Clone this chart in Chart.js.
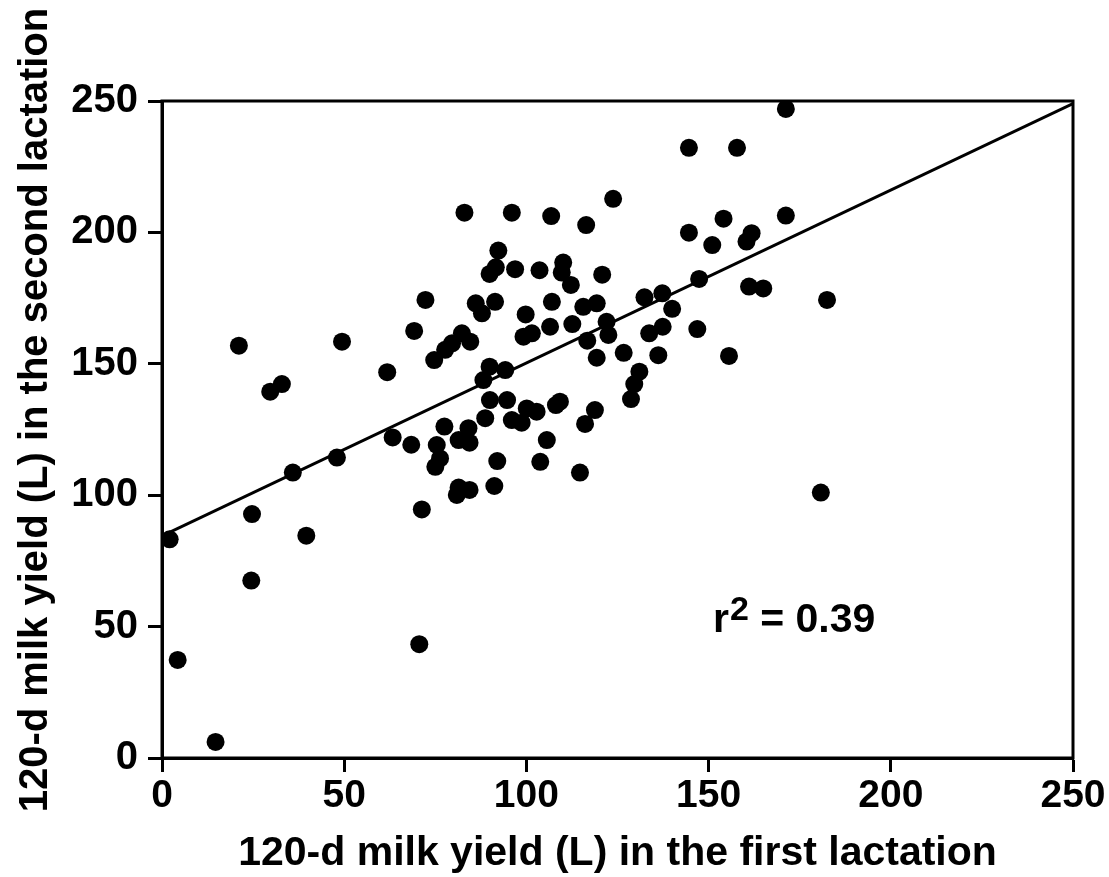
<!DOCTYPE html>
<html>
<head>
<meta charset="utf-8">
<script src="https://cdn.jsdelivr.net/npm/chart.js@4.4.1/dist/chart.umd.min.js"></script>
<style>
  html, body { margin: 0; padding: 0; background: #fff; }
  #wrap { width: 1109px; height: 877px; }
</style>
</head>
<body>
<div id="wrap"><canvas id="c" width="1109" height="877"></canvas></div>
<script>
// ---- data ----
const firstLactation = [
  2.1, 4.3, 14.7, 21.1, 24.5, 24.7, 29.7, 32.9, 35.9, 39.6,
  48.0, 49.4, 61.8, 63.3, 68.4, 69.2, 70.6, 71.3, 72.3, 74.7,
  75.4, 76.3, 75.0, 77.5, 77.7, 79.6, 82.3, 84.6, 83.0, 84.1,
  81.4, 84.4, 81.4, 84.4, 80.9, 86.1, 87.8, 91.4, 89.9, 91.6,
  92.3, 88.2, 89.9, 94.2, 90.0, 94.7, 88.7, 96.0, 98.7, 100.1,
  102.8, 92.0, 91.2, 96.0, 96.9, 99.8, 99.2, 101.5, 103.6, 103.8,
  105.6, 106.5, 107.0, 106.8, 108.1, 109.2, 110.1, 109.7, 112.2, 112.6,
  114.7, 115.6, 116.4, 116.7, 116.1, 118.8, 119.3, 119.3, 120.8, 122.0,
  122.5, 123.8, 126.7, 128.7, 129.6, 131.0, 132.4, 133.7, 136.2, 137.3,
  137.4, 140.0, 144.6, 144.6, 146.9, 147.4, 151.0, 154.1, 155.6, 157.8,
  160.4, 161.8, 161.1, 165.0, 171.2, 171.2, 180.8, 182.5
];
const secondLactation = [
  83.2, 37.3, 6.1, 156.9, 67.5, 92.8, 139.4, 142.3, 108.6, 84.6,
  114.3, 158.4, 146.8, 122.0, 119.2, 162.5, 43.3, 94.6, 174.3, 151.4,
  119.1, 114.0, 110.8, 126.1, 155.3, 157.8, 161.6, 158.4, 207.5, 125.5,
  121.0, 120.0, 102.9, 102.0, 100.1, 173.0, 169.2, 173.6, 184.2, 186.7,
  193.1, 143.8, 148.9, 147.6, 136.2, 136.2, 129.3, 128.6, 127.6, 133.0,
  131.8, 113.0, 103.5, 207.5, 186.0, 168.8, 160.3, 161.6, 185.6, 112.7,
  121.0, 164.1, 173.6, 206.2, 134.3, 135.6, 188.5, 184.7, 180.0, 165.1,
  108.6, 171.7, 202.8, 158.8, 127.1, 132.4, 173.0, 152.3, 183.9, 166.0,
  161.0, 212.8, 154.2, 136.6, 142.3, 147.0, 175.3, 161.6, 153.3, 176.8,
  164.1, 170.9, 232.2, 199.9, 163.2, 182.3, 195.2, 205.2, 153.0, 232.2,
  196.5, 199.7, 179.4, 178.7, 247.0, 206.4, 101.0, 174.3
];
const fitLineX = [0, 250];
const fitLineY = [84.5, 249];
const tickValues = [0, 50, 100, 150, 200, 250];
const xTitle = '120-d milk yield (L) in the first lactation';
const yTitle = '120-d milk yield (L) in the second lactation';
const r2Label = { base: 'r', sup: '2', rest: ' = 0.39', x: 151.2, y: 48.0 };

// ---- chart ----
const FAM = '"Liberation Sans", Arial, Helvetica, sans-serif';
const points = firstLactation.map((v, i) => ({ x: v, y: secondLactation[i] }));
const fit = fitLineX.map((v, i) => ({ x: v, y: fitLineY[i] }));

const deco = {
  id: 'deco',
  afterDraw(chart) {
    const { ctx, chartArea: a, scales: { x, y } } = chart;
    ctx.save();
    ctx.strokeStyle = '#000';
    ctx.lineWidth = 3;
    ctx.strokeRect(a.left, a.top, a.right - a.left, a.bottom - a.top);

    ctx.fillStyle = '#000';
    ctx.textBaseline = 'alphabetic';
    ctx.textAlign = 'left';
    let px = x.getPixelForValue(r2Label.x);
    const py = y.getPixelForValue(r2Label.y);
    ctx.font = 'bold 41px ' + FAM;
    ctx.fillText(r2Label.base, px, py);
    px += ctx.measureText(r2Label.base).width + 1;
    ctx.font = 'bold 34px ' + FAM;
    ctx.fillText(r2Label.sup, px, py - 12);
    px += ctx.measureText(r2Label.sup).width;
    ctx.font = 'bold 41px ' + FAM;
    ctx.fillText(r2Label.rest, px, py);

    // y axis title
    ctx.translate(47, 410);
    ctx.rotate(-Math.PI / 2);
    ctx.textAlign = 'center';
    ctx.font = 'bold 40px ' + FAM;
    ctx.fillText(yTitle, 0, 0);
    ctx.restore();
  }
};

new Chart(document.getElementById('c'), {
  type: 'scatter',
  data: {
    datasets: [
      {
        data: points,
        backgroundColor: '#000',
        borderWidth: 0,
        pointRadius: 9,
        pointHoverRadius: 9
      },
      {
        type: 'line',
        data: fit,
        borderColor: '#000',
        borderWidth: 3,
        pointRadius: 0,
        fill: false,
        tension: 0
      }
    ]
  },
  options: {
    responsive: false,
    animation: false,
    events: [],
    devicePixelRatio: 1,
    layout: { padding: { top: 101, right: 36, left: 0, bottom: 0 } },
    plugins: { legend: { display: false }, tooltip: { enabled: false } },
    scales: {
      x: {
        type: 'linear', min: 0, max: 250,
        afterBuildTicks: s => { s.ticks = tickValues.map(v => ({ value: v })); },
        afterFit: s => { s.height = 119; },
        ticks: { color: '#000', padding: 1, font: { family: FAM, size: 39, weight: 'bold' } },
        grid: { display: true, drawOnChartArea: false, drawTicks: true, tickLength: 14, tickWidth: 3, tickColor: '#000', color: '#000' },
        border: { display: true, color: '#000', width: 3 },
        title: { display: true, text: xTitle, color: '#000', font: { family: FAM, size: 41, weight: 'bold', lineHeight: 1 }, padding: { top: 0, bottom: 3 } }
      },
      y: {
        type: 'linear', min: 0, max: 250,
        afterBuildTicks: s => { s.ticks = tickValues.map(v => ({ value: v })); },
        afterFit: s => { s.width = 162; },
        ticks: { color: '#000', padding: 10, font: { family: FAM, size: 40, weight: 'bold' } },
        grid: { display: true, drawOnChartArea: false, drawTicks: true, tickLength: 14, tickWidth: 3, tickColor: '#000', color: '#000' },
        border: { display: true, color: '#000', width: 3 },
        title: { display: false }
      }
    }
  },
  plugins: [deco]
});
</script>
</body>
</html>
